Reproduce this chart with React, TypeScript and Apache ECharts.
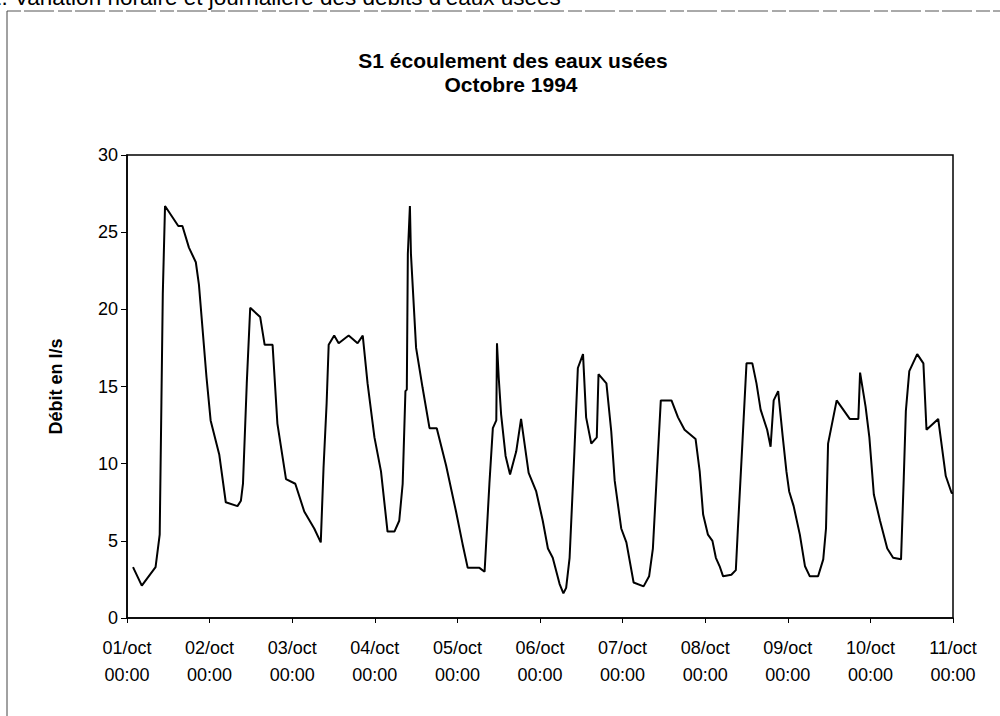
import React, { useEffect, useRef } from "react";
import * as echarts from "echarts";

// Hours elapsed since 01/oct 00:00 and the measured flow (l/s) at each vertex.
const hours = [
  1.75, 4.3, 8.3, 9.5, 10.0, 10.4, 11.05, 14.9, 16.1, 18.0, 20.0, 20.9, 23.1, 24.3, 26.8,
  28.7, 32.1, 33.1, 33.7, 34.8, 35.8, 38.7, 40.0, 42.3, 43.7, 46.2, 48.9, 51.5, 54.4, 56.3,
  57.1, 58.0, 58.6, 60.2, 61.5, 64.4, 67.0, 68.5, 69.9, 71.9, 73.8, 75.7, 77.7, 79.1, 80.1,
  80.9, 81.3, 81.6, 82.2, 82.5, 84.0, 85.9, 87.9, 90.0, 92.7, 95.6, 97.5, 99.0, 102.4, 103.9,
  105.3, 106.3, 107.3, 107.5, 108.0, 108.7, 110.0, 111.3, 113.1, 114.5, 116.7, 118.9, 120.8,
  122.3, 123.7, 125.7, 126.8, 127.6, 128.6, 130.0, 131.0, 132.5, 133.4, 134.9, 136.5, 137.0,
  139.3, 140.7, 141.7, 143.6, 145.1, 147.2, 150.1, 151.7, 152.8, 153.8, 155.1, 158.2, 160.1,
  162.0, 165.2, 166.4, 167.4, 168.8, 170.1, 171.1, 172.2, 173.2, 175.6, 176.9, 177.5, 178.8,
  180.0, 181.7, 182.9, 184.1, 186.0, 187.0, 187.9, 189.2, 190.5, 191.6, 192.4, 193.7, 195.5,
  197.0, 198.4, 200.8, 202.3, 203.1, 203.7, 206.2, 210.0, 212.5, 213.0, 214.6, 215.7, 217.0,
  218.8, 220.9, 222.6, 224.9, 225.7, 226.3, 227.3, 229.6, 231.4, 232.3, 235.7, 237.9, 239.6,
  240.0,
];

const flow = [
  3.3, 2.1, 3.3, 5.4, 14.0, 21.0, 26.7, 25.4, 25.4, 24.0, 23.05, 21.6, 15.6, 12.8, 10.6,
  7.5, 7.25, 7.6, 8.7, 15.2, 20.1, 19.5, 17.7, 17.7, 12.6, 9.0, 8.7, 6.9, 5.8, 4.9,
  9.7, 13.9, 17.7, 18.3, 17.8, 18.3, 17.8, 18.3, 15.2, 11.7, 9.5, 5.6, 5.6, 6.3, 8.7,
  14.7, 14.8, 23.6, 26.7, 23.6, 17.5, 14.9, 12.3, 12.3, 9.9, 6.9, 4.8, 3.25, 3.25, 3.0,
  8.7, 12.3, 12.8, 17.8, 15.6, 13.2, 10.5, 9.3, 10.8, 12.9, 9.4, 8.2, 6.3,
  4.5, 3.9, 2.2, 1.6, 1.95, 3.9, 10.8, 16.2, 17.1, 13.0, 11.3, 11.7, 15.8,
  15.2, 12.1, 8.9, 5.8, 4.9, 2.3, 2.05, 2.7, 4.5, 8.7, 14.1, 14.1, 13.0,
  12.2, 11.6, 9.5, 6.7, 5.4, 5.0, 3.9, 3.35, 2.7, 2.8, 3.1, 5.8, 11.3,
  16.5, 16.5, 15.2, 13.5, 12.2, 11.1, 14.1, 14.7, 11.8, 9.5, 8.2, 7.25, 5.4,
  3.35, 2.7, 2.7, 3.8, 5.8, 11.3, 14.1, 12.9, 12.9, 15.9, 13.7, 11.7, 8.0,
  6.3, 4.5, 3.9, 3.8, 9.1, 13.4, 16.0, 17.1, 16.5, 12.2, 12.9, 9.2, 8.1,
  8.1,
];

const dayLabels = [
  "01/oct", "02/oct", "03/oct", "04/oct", "05/oct", "06/oct",
  "07/oct", "08/oct", "09/oct", "10/oct", "11/oct",
];
const timeLabel = "00:00";

const yTicks = [0, 5, 10, 15, 20, 25, 30];

const FONT = "'Liberation Sans', Arial, sans-serif";

export default function App() {
  const ref = useRef<HTMLDivElement>(null);

  useEffect(() => {
    if (!ref.current) return;
    const chart = echarts.init(ref.current, undefined, { renderer: "svg" });

    const points = hours.map((h, i) => [h, flow[i]]);

    chart.setOption({
      animation: false,
      backgroundColor: "#fff",
      graphic: [
        {
          type: "text",
          left: -11,
          top: -14,
          style: {
            text: "1. Variation horaire et journalière des débits d'eaux usées",
            font: `22.5px ${FONT}`,
            fill: "#000",
          },
        },
        {
          type: "line",
          shape: { x1: 7, y1: 11, x2: 1000, y2: 11 },
          style: { stroke: "#555", lineWidth: 1, lineDash: [14, 3, 30, 4] },
        },
        {
          type: "line",
          shape: { x1: 7, y1: 11, x2: 7, y2: 716 },
          style: { stroke: "#444", lineWidth: 1 },
        },
        {
          type: "text",
          x: 513,
          y: 60,
          style: {
            text: "S1 écoulement des eaux usées",
            font: `bold 21px ${FONT}`,
            fill: "#000",
            align: "center",
            verticalAlign: "middle",
          },
        },
        {
          type: "text",
          x: 511,
          y: 84,
          style: {
            text: "Octobre 1994",
            font: `bold 21px ${FONT}`,
            fill: "#000",
            align: "center",
            verticalAlign: "middle",
          },
        },
      ],
      grid: {
        left: 127,
        right: 47,
        top: 155,
        bottom: 98,
        show: true,
        borderColor: "#000",
        borderWidth: 1.5,
        backgroundColor: "transparent",
      },
      xAxis: {
        type: "value",
        min: 0,
        max: 240,
        interval: 24,
        axisLine: { show: true, lineStyle: { color: "#000", width: 1.5 } },
        axisTick: { show: true, length: 5, lineStyle: { color: "#000" } },
        splitLine: { show: false },
        axisLabel: {
          color: "#000",
          fontFamily: FONT,
          fontSize: 18,
          lineHeight: 27,
          margin: 16,
          formatter: (v: number) => `${dayLabels[Math.round(v / 24)]}\n${timeLabel}`,
        },
      },
      yAxis: {
        type: "value",
        min: yTicks[0],
        max: yTicks[yTicks.length - 1],
        interval: 5,
        name: "Débit en l/s",
        nameLocation: "middle",
        nameGap: 62,
        nameTextStyle: { color: "#000", fontFamily: FONT, fontSize: 18, fontWeight: "bold" },
        axisLine: { show: true, lineStyle: { color: "#000", width: 1.5 } },
        axisTick: { show: true, length: 6, lineStyle: { color: "#000" } },
        splitLine: { show: false },
        axisLabel: { color: "#000", fontFamily: FONT, fontSize: 18, margin: 9 },
      },
      series: [
        {
          type: "line",
          data: points,
          showSymbol: false,
          lineStyle: { color: "#000", width: 2 },
          itemStyle: { color: "#000" },
        },
      ],
    });

    return () => chart.dispose();
  }, []);

  return (
    <div
      ref={ref}
      style={{ position: "fixed", left: 0, top: 0, width: 1000, height: 716, background: "#fff" }}
    />
  );
}
